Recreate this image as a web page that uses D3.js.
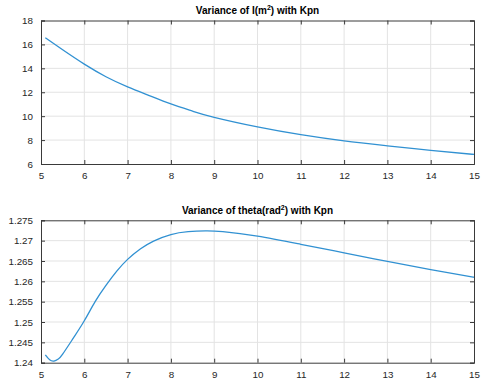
<!DOCTYPE html>
<html lang="en">
<head>
    <meta charset="UTF-8">
    <title>Variance with Kpn</title>
    <script src="https://d3js.org/d3.v7.min.js"></script>
    <style>
        body {
            margin: 0;
            background: #fff;
        }
        svg {
            display: block;
            font-family: "Liberation Sans", Arial, sans-serif;
        }
    </style>
</head>
<body>
    <svg width="484" height="380"></svg>
    <script>
        const kpnTop = [5.1, 5.5, 6, 6.5, 7, 7.5, 8, 8.5, 9, 10, 11, 12, 13, 14, 15];
        const varI = [16.55, 15.55, 14.35, 13.3, 12.45, 11.72, 11.02, 10.42, 9.9, 9.1, 8.45, 7.93, 7.52, 7.14, 6.8];

        const kpnBottom = [5.1, 5.2, 5.3, 5.4, 5.5, 5.75, 6, 6.25, 6.5, 6.75, 7, 7.3, 7.6, 8, 8.4, 8.8, 9.2, 10, 11, 12, 13, 14, 15];
        const varTheta = [1.2419, 1.2407, 1.2404, 1.2409, 1.2421, 1.2461, 1.2503, 1.2550, 1.2590, 1.2625, 1.2654, 1.268, 1.2699, 1.2715, 1.2722, 1.2724, 1.2722, 1.2711, 1.2691, 1.2670, 1.2649, 1.2629, 1.261];

        const xTicks = [5, 6, 7, 8, 9, 10, 11, 12, 13, 14, 15];
        const yTicksTop = [6, 8, 10, 12, 14, 16, 18];
        const yTicksBottom = [1.24, 1.245, 1.25, 1.255, 1.26, 1.265, 1.27, 1.275];

        const svg = d3.select("svg");
        const left = 41, right = 474;

        function drawPanel(cfg) {
            const x = d3.scaleLinear().domain([5, 15]).range([left, right]);
            const y = d3.scaleLinear().domain(cfg.yDomain).range([cfg.bottom, cfg.top]);
            const g = svg.append("g");

            g.append("rect")
                .attr("x", left).attr("y", cfg.top)
                .attr("width", right - left).attr("height", cfg.bottom - cfg.top)
                .attr("fill", "#fff");

            // grid
            g.append("g").selectAll("line").data(xTicks.slice(1, -1)).join("line")
                .attr("x1", d => x(d)).attr("x2", d => x(d))
                .attr("y1", cfg.top).attr("y2", cfg.bottom)
                .attr("stroke", "#e3e3e3").attr("stroke-width", 1);
            g.append("g").selectAll("line").data(cfg.yTicks.slice(1, -1)).join("line")
                .attr("x1", left).attr("x2", right)
                .attr("y1", d => y(d)).attr("y2", d => y(d))
                .attr("stroke", "#e3e3e3").attr("stroke-width", 1);

            // curve
            g.append("path")
                .datum(cfg.xs.map((v, i) => [v, cfg.ys[i]]))
                .attr("fill", "none")
                .attr("stroke", "#3191d2")
                .attr("stroke-width", 1.3)
                .attr("d", d3.line().x(d => x(d[0])).y(d => y(d[1])).curve(d3.curveNatural));

            // axes with inward ticks
            const tk = 4;
            const axB = g.append("g").attr("transform", `translate(0,${cfg.bottom})`)
                .call(d3.axisBottom(x).tickValues(xTicks).tickSize(-tk).tickPadding(8).tickFormat(d3.format("d")));
            const axT = g.append("g").attr("transform", `translate(0,${cfg.top})`)
                .call(d3.axisTop(x).tickValues(xTicks).tickSize(-tk).tickFormat(""));
            const axL = g.append("g").attr("transform", `translate(${left},0)`)
                .call(d3.axisLeft(y).tickValues(cfg.yTicks).tickSize(-tk).tickPadding(8).tickFormat(d => String(+d.toFixed(3))));
            const axR = g.append("g").attr("transform", `translate(${right},0)`)
                .call(d3.axisRight(y).tickValues(cfg.yTicks).tickSize(-tk).tickFormat(""));

            [axB, axT, axL, axR].forEach(a => {
                a.select(".domain").attr("stroke", "#3a3a3a").attr("stroke-width", 1);
                a.selectAll(".tick line").attr("stroke", "#3a3a3a");
                a.selectAll("text").attr("fill", "#262626")
                    .style("font-size", "9.8px")
                    .style("font-family", "'Liberation Sans', Arial, sans-serif");
            });

            // title
            const t = g.append("text")
                .attr("x", (left + right) / 2)
                .attr("y", cfg.titleY)
                .attr("text-anchor", "middle")
                .attr("fill", "#000")
                .style("font-size", "10px")
                .style("font-weight", "bold");
            t.append("tspan").text(cfg.title[0]);
            t.append("tspan").attr("dy", -4).style("font-size", "7px").text("2");
            t.append("tspan").attr("dy", 4).text(cfg.title[1]);
        }

        drawPanel({
            top: 20.5, bottom: 164, yDomain: [6, 18], yTicks: yTicksTop,
            xs: kpnTop, ys: varI, titleY: 14,
            title: ["Variance of I(m", ") with Kpn"]
        });

        drawPanel({
            top: 220.3, bottom: 362.7, yDomain: [1.24, 1.275], yTicks: yTicksBottom,
            xs: kpnBottom, ys: varTheta, titleY: 214,
            title: ["Variance of theta(rad", ") with Kpn"]
        });
    </script>
</body>
</html>
